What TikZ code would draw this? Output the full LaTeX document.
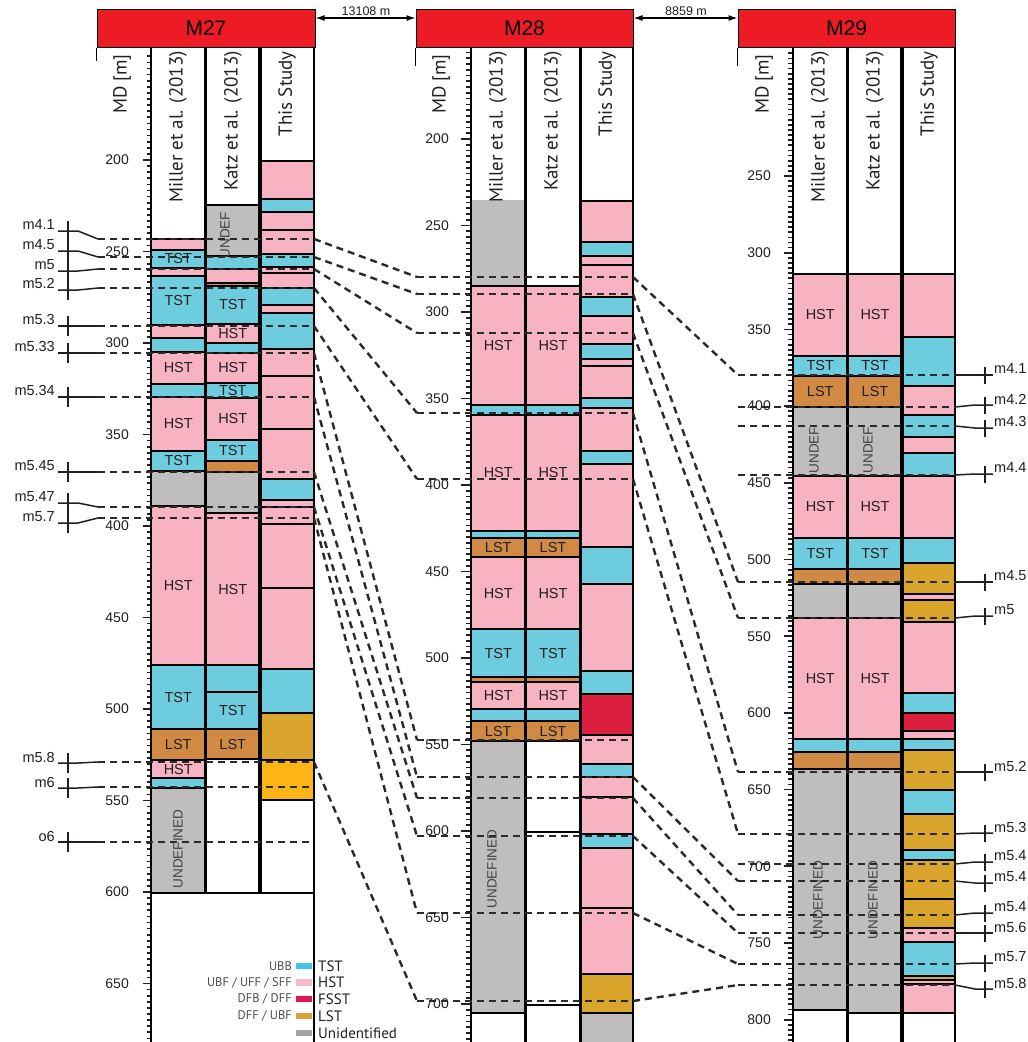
\documentclass[tikz,border=0pt]{standalone}
\usepackage{fontspec}
\setmainfont{Liberation Sans}
\newfontfamily\myr{PT Sans}
\usetikzlibrary{arrows.meta}
\definecolor{cTST}{HTML}{6DCDDF}
\definecolor{cHST}{HTML}{F7B3C2}
\definecolor{cLSTo}{HTML}{D08A43}
\definecolor{cLSTg}{HTML}{D9A52C}
\definecolor{cYel}{HTML}{FDB515}
\definecolor{cRed}{HTML}{DC1E3F}
\definecolor{cGry}{HTML}{BFBDBE}
\definecolor{cHead}{HTML}{ED1C24}
\definecolor{cDash}{HTML}{2A2A2A}
\definecolor{cTxt}{HTML}{231F20}
\definecolor{gTST}{HTML}{40C3EE}
\definecolor{gHST}{HTML}{F9B9C6}
\definecolor{gFSST}{HTML}{E01A48}
\definecolor{gLST}{HTML}{D8A32F}
\definecolor{gUN}{HTML}{A5A5A5}
\tikzset{
  lyr/.style={draw=black,line width=1.4pt},
  lab/.style={font=\fontsize{14.5}{14.5}\selectfont,text=cTxt,inner sep=0pt},
  undef/.style={font=\fontsize{13.5}{13.5}\selectfont,text=cTxt!85,rotate=90,inner sep=0pt},
  colhdr/.style={font=\myr\fontsize{19}{19}\selectfont,text=cTxt,rotate=90,anchor=east,inner sep=0pt},
  mdlab/.style={font=\myr\fontsize{19}{19}\selectfont,text=cTxt,rotate=90,anchor=west,inner sep=0pt},
  colsep/.style={line width=3.2pt},
  colrim/.style={line width=2.4pt},
  tk/.style={line width=1.7pt,draw=cTxt},
  dlab/.style={font=\fontsize{14}{14}\selectfont,anchor=east,inner sep=0pt,text=cTxt},
  corr/.style={draw=cDash,line width=2.4pt,dash pattern=on 7pt off 5pt},
  mrk/.style={draw=cTxt,line width=1.5pt},
  mlab/.style={font=\fontsize{14.5}{14.5}\selectfont,inner sep=0pt,text=cTxt},
  hdbox/.style={fill=cHead,draw=black,line width=1pt,minimum height=38pt,inner sep=0pt,font=\fontsize{21}{21}\selectfont},
  dist/.style={{Latex[length=9pt,width=6pt]}-{Latex[length=9pt,width=6pt]},line width=1.2pt,draw=black},
  distlab/.style={font=\fontsize{12.5}{12.5}\selectfont,inner sep=0pt,text=cTxt},
  leg/.style={font=\myr\fontsize{12.5}{12.5}\selectfont,inner sep=0pt,text=cTxt!80,anchor=east},
  legr/.style={font=\myr\fontsize{15}{15}\selectfont,inner sep=0pt,text=cTxt,anchor=west},
}
% #1 id, #2 x left, #3 x right, #4 list top/bottom/colour/label
\newcommand\drawcol[4]{%
  \foreach \yA/\yB/\cc/\txt in {#4}{%
    \path[lyr,fill=\cc] (#2,\yA) rectangle (#3,\yB);
    \node[lab] (#1-\yA) at ({(#2+#3)/2},{(\yA+\yB)/2}) {\txt};
  }}
\begin{document}
\begin{tikzpicture}[x=1pt,y=-1pt]
\useasboundingbox (0,0) rectangle (1028,1042);
\fill[white] (0,0) rectangle (1028,1042);

% ================= M27 =================
\drawcol{a1}{151}{205.5}{239/250/cHST/{},250/268/cTST/TST,268/276/cHST/{},276/325/cTST/TST,325/338/cHST/{},338/352/cTST/{},352/384/cHST/HST,384/397/cTST/{},397/451/cHST/HST,451/471/cTST/TST,471/506/cGry/{},506/665/cHST/HST,665/729/cTST/TST,729/760/cLSTo/LST,760/778/cHST/HST,778/788/cTST/{},788/893/cGry/{}}
\drawcol{a2}{205.5}{260}{205/256/cGry/{},256/269/cTST/{},269/283/cHST/{},283/286/cLSTo/{},286/324/cTST/TST,324/343/cHST/HST,343/353/cTST/{},353/383/cHST/HST,383/398/cTST/TST,398/440/cHST/HST,440/461/cTST/TST,461/472/cLSTo/{},472/513/cGry/{},513/665/cHST/HST,665/692/cTST/{},692/729/cTST/TST,729/759/cLSTo/LST,759/893/white/{}}
\drawcol{a3}{260}{314}{161/199/cHST/{},199/212/cTST/{},212/230/cHST/{},230/254/cHST/{},254/267/cTST/{},267/273/cHST/{},273/288/cHST/{},288/305/cTST/{},305/313/cHST/{},313/349/cTST/{},349/376/cHST/{},376/429/cHST/{},429/479/cHST/{},479/500/cTST/{},500/507/cHST/{},507/524/cHST/{},524/588/cHST/{},588/669/cHST/{},669/713/cTST/{},713/760/cLSTg/{},760/800/cYel/{},800/893/white/{}}

% ================= M28 =================
\fill[cGry] (471,200) rectangle (525.5,287);
\drawcol{b1}{471}{525.5}{286/405/cHST/HST,405/415/cTST/{},415/531/cHST/HST,531/538/cTST/{},538/557/cLSTo/LST,557/629/cHST/HST,629/677/cTST/TST,677/682/cLSTo/{},682/709/cHST/HST,709/721/cTST/{},721/741/cLSTo/LST,741/1013/cGry/{}}
\drawcol{b2}{525.5}{580.5}{286/405/cHST/HST,405/415/cTST/{},415/531/cHST/HST,531/538/cTST/{},538/557/cLSTo/LST,557/629/cHST/HST,629/677/cTST/TST,677/682/cLSTo/{},682/709/cHST/HST,709/721/cTST/{},721/741/cLSTo/LST,741/832/white/{},832/1005/white/{}}
\drawcol{b3}{580.5}{633}{201/242/cHST/{},242/256/cTST/{},256/265/cHST/{},265/297/cHST/{},297/316/cTST/{},316/344/cHST/{},344/359/cTST/{},359/366/cHST/{},366/398/cHST/{},398/408/cTST/{},408/451/cHST/{},451/464/cTST/{},464/547/cHST/{},547/584/cTST/{},584/671/cHST/{},671/694/cTST/{},694/735/cRed/{},735/764/cHST/{},764/777/cTST/{},777/797/cHST/{},797/834/cHST/{},834/848/cTST/{},848/908/cHST/{},908/974/cHST/{},974/1013/cLSTg/{},1013/1046/cGry/{}}

% ================= M29 =================
\drawcol{c1}{793}{847.5}{274/356/cHST/HST,356/376/cTST/TST,376/407/cLSTo/LST,407/476/cGry/{},476/538/cHST/HST,538/569/cTST/TST,569/584/cLSTo/{},584/618/cGry/{},618/739/cHST/HST,739/752/cTST/{},752/769/cLSTo/{},769/1010/cGry/{}}
\drawcol{c2}{847.5}{902.5}{274/356/cHST/HST,356/376/cTST/TST,376/407/cLSTo/LST,407/476/cGry/{},476/538/cHST/HST,538/569/cTST/TST,569/584/cLSTo/{},584/618/cGry/{},618/739/cHST/HST,739/752/cTST/{},752/769/cLSTo/{},769/1013/cGry/{}}
\drawcol{c3}{902.5}{955}{274/337/cHST/{},337/386/cTST/{},386/415/cHST/{},415/437/cTST/{},437/453/cHST/{},453/476/cTST/{},476/538/cHST/{},538/563/cTST/{},563/594/cLSTg/{},594/600/cHST/{},600/622/cLSTg/{},622/693/cHST/{},693/713/cTST/{},713/731/cRed/{},731/739/cHST/{},739/750/cTST/{},750/790/cLSTg/{},790/814/cTST/{},814/850/cLSTg/{},850/860/cTST/{},860/899/cLSTg/{},899/928/cLSTg/{},928/942/cHST/{},942/976/cTST/{},976/980/cLSTg/{},980/984/cHST/{},984/1013/cHST/{}}

% ================= rulers =================
\foreach \k in {-17,...,144} {\draw[tk] (146.5,{160+\k*6.1}) -- (151,{160+\k*6.1});}
\foreach \k in {0,...,9} {\draw[tk] (142.5,{160+\k*91.5}) -- (151,{160+\k*91.5});}
\foreach \k in {-15,...,156} {\draw[tk] (465.5,{139+\k*5.767}) -- (471,{139+\k*5.767});}
\foreach \k in {0,...,10} {\draw[tk] (460.5,{139+\k*86.5}) -- (471,{139+\k*86.5});}
\foreach \k in {-24,...,169} {\draw[tk] (788,{176+\k*5.113}) -- (793,{176+\k*5.113});}
\foreach \k in {0,...,11} {\draw[tk] (783.5,{176+\k*76.7}) -- (793,{176+\k*76.7});}

\foreach \d [count=\i from 0] in {200,250,...,650} {\node[dlab] (da\d) at (129,{160+\i*91.5}) {\d};}
\foreach \d [count=\i from 0] in {200,250,...,700} {\node[dlab] (db\d) at (449,{139+\i*86.5}) {\d};}
\foreach \d [count=\i from 0] in {250,300,...,800} {\node[dlab] (dc\d) at (771,{176+\i*76.7}) {\d};}

% ================= column borders =================
\draw[colrim] (151,47) -- (151,1042);
\draw[colsep] (205.5,47) -- (205.5,893);
\draw[colsep] (260,47) -- (260,893);
\draw[line width=2.2pt] (314,47) -- (314,1042);
\draw[line width=2pt] (151,893) -- (314,893);
\draw[colrim] (471,47) -- (471,1042);
\draw[colsep] (525.5,47) -- (525.5,1042);
\draw[colsep] (580.5,47) -- (580.5,1042);
\draw[line width=2.2pt] (633,47) -- (633,1042);
\draw[colrim] (793,47) -- (793,1042);
\draw[colsep] (847.5,47) -- (847.5,1042);
\draw[colsep] (902,47) -- (902,1042);
\draw[line width=2.2pt] (955,47) -- (955,1042);

% ================= headers =================
\node[hdbox,minimum width=218pt] (M27) at (206,28) {M27};
\node[hdbox,minimum width=217pt] (M28) at (524.5,28) {M28};
\node[hdbox,minimum width=217pt] (M29) at (846.5,28) {M29};
\draw[line width=1.2pt] (M27.south west) -- ++(0,13);
\draw[line width=1.2pt] (M28.south west) -- ++(0,18);
\draw[line width=1.2pt] (M29.south west) -- ++(0,18);
\coordinate (ylev) at (0,18);
\draw[dist] (M27.east |- ylev) -- (M28.west |- ylev);
\draw[dist] (M28.east |- ylev) -- (M29.west |- ylev);
\node[distlab] (d1) at (366,11) {13108 m};
\node[distlab] (d2) at (686,11) {8859 m};

\node[mdlab] (md1) at (122,114) {MD [m]};
\node[mdlab] (md2) at (441,114) {MD [m]};
\node[mdlab] (md3) at (764,114) {MD [m]};
\node[colhdr] (h11) at (178,51) {Miller et al. (2013)};
\node[colhdr] (h12) at (233,51) {Katz et al. (2013)};
\node[colhdr] (h13) at (287,51) {This Study};
\node[colhdr] (h21) at (498,51) {Miller et al. (2013)};
\node[colhdr] (h22) at (553,51) {Katz et al. (2013)};
\node[colhdr] (h23) at (607,51) {This Study};
\node[colhdr] (h31) at (820,51) {Miller et al. (2013)};
\node[colhdr] (h32) at (875,51) {Katz et al. (2013)};
\node[colhdr] (h33) at (929,51) {This Study};

% rotated undefined labels
\node[undef] (u1) at (225,235) {UNDEF};
\node[undef] (u2) at (178,849) {UNDEFINED};
\node[undef] (u3) at (492,869) {UNDEFINED};
\node[undef] (u4) at (814,450) {UNDEF};
\node[undef] (u5) at (868,450) {UNDEF};
\node[undef] (u6) at (818,900) {UNDEFINED};
\node[undef] (u7) at (873,900) {UNDEFINED};

% ================= correlation surfaces =================
\foreach \i/\y in {1/239,2/257,3/269,4/288,5/326,6/353,7/397,8/472,9/507,10/518,11/762,12/787,13/842}{
  \coordinate (A\i w) at (98,\y); \coordinate (A\i e) at (314,\y);
  \draw[corr] (A\i w) -- (A\i e);}
\foreach \i/\y in {1/277,2/294,3/333,4/413,5/479,6/740,7/777,8/798,9/836,10/913,11/1001}{
  \coordinate (B\i w) at (417,\y); \coordinate (B\i e) at (633,\y);
  \draw[corr] (B\i w) -- (B\i e);}
\foreach \i/\y in {1/375,2/407,3/426,4/475,5/582,6/618,7/772,8/834,9/864,10/881,11/915,12/933,13/964,14/985}{
  \coordinate (C\i w) at (738,\y); \coordinate (C\i e) at (955,\y);
  \draw[corr] (C\i w) -- (C\i e);}
\foreach \i in {1,...,11}{\draw[corr] (A\i e) -- (B\i w);}
\foreach \i/\j in {1/1,2/5,3/6,4/7,5/8,7/10,8/11,9/12,10/13,11/14}{\draw[corr] (B\i e) -- (C\j w);}

% left markers (M27)
\foreach \i/\yc/\t in {1/231/m4.1,2/251/m4.5,3/271/m5,4/290/m5.2,5/326/m5.3,6/353/m5.33,7/397/m5.34,8/472/m5.45,9/503/m5.47,10/523/m5.7,11/763/m5.8,12/788/m6,13/842/o6}{
  \coordinate (P\i) at (68,\yc);
  \draw[mrk] ([xshift=-10pt]P\i) -- ([xshift=10pt]P\i) -- (A\i w);
  \draw[mrk] ([yshift=-10pt]P\i) -- ([yshift=10pt]P\i);
  \node[mlab,anchor=east] (tl\i) at (55,\yc-6) {\t};}

% right markers (M29)
\foreach \i/\yc/\t in {1/375/m4.1,2/405/m4.2,3/428/m4.3,4/474/m4.4,5/582/m4.5,6/616/m5,7/772/m5.2,8/833/m5.3,9/862/m5.4,10/883/m5.4,11/913/m5.4,12/933/m5.6,13/963/m5.7,14/989/m5.8}{
  \coordinate (Q\i) at (985,\yc);
  \draw[mrk] (C\i e) -- ([xshift=-10pt]Q\i) -- ([xshift=8pt]Q\i);
  \draw[mrk] ([yshift=-8.5pt]Q\i) -- ([yshift=8.5pt]Q\i);
  \node[mlab,anchor=west] (tr\i) at (994,\yc-6) {\t};}

% ================= legend =================
\foreach \i/\y/\c/\l/\r in {1/966/gTST/{UBB}/TST,2/982.5/gHST/{UBF / UFF / SFF}/HST,3/999/gFSST/{DFB / DFF}/FSST,4/1016/gLST/{DFF / UBF}/LST,5/1033/gUN/{}/Unidentified}{
  \fill[\c] (296,\y-3.2) rectangle (312,\y+3.2);
  \node[leg] (ll\i) at (292,\y) {\l};
  \node[legr] (lr\i) at (318,\y) {\r};}
\end{tikzpicture}
\end{document}
